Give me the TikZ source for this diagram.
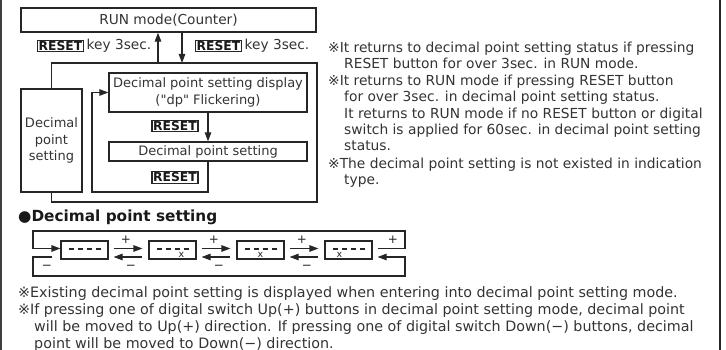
\documentclass[tikz,border=0pt]{standalone}
\usepackage{fontspec}
\setmainfont{DejaVu Sans}
\newfontfamily\rawq{DejaVu Sans}
\usetikzlibrary{arrows.meta,calc}
\begin{document}
\begin{tikzpicture}[x=1pt,y=-1pt,
  flowbox/.style={draw=black!85,line width=1.3pt,inner sep=0pt,rectangle,align=center,
    font=\fontsize{13}{16.5}\selectfont,text=black!80},
  keybox/.style={draw=black!85,line width=1.3pt,inner sep=1.1pt,
    font=\fontsize{12.3}{12.3}\selectfont\bfseries,text=black!90},
  conn/.style={draw=black!85,line width=1.2pt},
  arr/.style={conn,-{Triangle[length=9pt,width=6.5pt]}},
  body/.style={anchor=base west,inner sep=0pt,font=\fontsize{13.8}{16}\selectfont,text=black!80},
  bodyb/.style={anchor=base west,inner sep=0pt,font=\fontsize{14.3}{16}\selectfont,text=black!80},
  lbl/.style={inner sep=0pt,font=\fontsize{13.7}{16}\selectfont,text=black!80},
  pm/.style={inner sep=0pt,font=\fontsize{12}{12}\selectfont,text=black!85},
  disp/.style={draw=black!85,line width=1.2pt,minimum width=47pt,minimum height=18pt,inner sep=0pt},
  seg/.style={line width=2pt,draw=black!85},
  dot/.style={inner sep=0pt,font=\fontsize{9.5}{9.5}\selectfont,text=black!85},
  border/.style={draw=black!75}
]
\useasboundingbox (0,0) rectangle (726,350);
% page borders
\draw[border,line width=1.2pt] (1,0) -- (1,350);
\draw[border,line width=2.4pt,draw=black!85] (720,0) -- (720,350);

% ---------- flow diagram ----------
\node[flowbox,minimum width=295pt,minimum height=24pt,font=\fontsize{13.7}{16.5}\selectfont] (run) at (168.5,20) {RUN mode(Counter)};
\node[flowbox,minimum width=198pt,minimum height=39pt] (dsp) at (208,92.5) {Decimal point setting display\\({\rawq"}dp{\rawq"} Flickering)};
\node[flowbox,minimum width=198pt,minimum height=19pt] (dps) at (208,151.5) {Decimal point setting};
\node[flowbox,minimum width=61pt,minimum height=103pt] (lb) at (51.5,140.5) {Decimal\\point\\setting};

\node[keybox] (k3) at (60.5,46) {RESET};
\node[lbl,anchor=west] (t3) at ([xshift=2.5pt]k3.east) {key 3sec.};
\node[keybox] (k4) at (218.5,46) {RESET};
\node[lbl,anchor=west] (t4) at ([xshift=2.5pt]k4.east) {key 3sec.};
\node[keybox] (k1) at (175,126) {RESET};
\node[keybox] (k2) at (175,177.5) {RESET};

\coordinate (upx) at (158,63);
\coordinate (dnx) at (182,63);
\draw[arr] (upx) -- (upx |- run.south);
\draw[arr] (dnx |- run.south) -- (dnx);
\draw[conn] (lb.north) |- (317,63) -- (317,202) -| (lb.south);
\draw[arr] (dsp.south) -- (dps.north);
\draw[arr] (dps.south) |- (92,192) |- (dsp.west);

% ---------- right notes ----------
\node[body] at (328,53) {※It returns to decimal point setting status if pressing};
\node[body] at (344,68.5) {RESET button for over 3sec. in RUN mode.};
\node[body] at (328,86) {※It returns to RUN mode if pressing RESET button};
\node[body] at (344,102) {for over 3sec. in decimal point setting status.};
\node[body] at (344,118.5) {It returns to RUN mode if no RESET button or digital};
\node[body] at (344,135) {switch is applied for 60sec. in decimal point setting};
\node[body] at (344,151) {status.};
\node[body] at (328,168) {※The decimal point setting is not existed in indication};
\node[body] at (344,184.5) {type.};

% ---------- decimal point setting ----------
\node[anchor=base west,inner sep=0pt,font=\fontsize{15.3}{18}\selectfont\bfseries,text=black!90] (hd) at (18,222) {{\mdseries ●}Decimal point setting};

\node[disp] (d1) at (84.5,250) {};
\node[disp] (d2) at (172.5,250) {};
\node[disp] (d3) at (260.5,250) {};
\node[disp] (d4) at (348.5,250) {};
\foreach \d in {d1,d2,d3,d4}{
  \foreach \o in {-13.5,-4.5,4.5,13.5}{
    \draw[seg] ($(\d.center)+(\o-2.5,-1)$) -- ($(\d.center)+(\o+2.5,-1)$);
  }
}
\node[dot] at ($(d2.center)+(9,5)$) {x};
\node[dot] at ($(d3.center)+(0,5)$) {x};
\node[dot] at ($(d4.center)+(-9,5)$) {x};

\foreach \a/\b in {d1/d2,d2/d3,d3/d4}{
  \draw[arr] ($(\a.east)+(5,-1.5)$) -- ($(\b.west)+(-6,-1.5)$) node[pm,midway,yshift=8.5pt,xshift=-2pt] {+};
  \draw[arr] ($(\b.west)+(-6,7)$) -- ($(\a.east)+(5,7)$) node[pm,midway,yshift=-10pt,xshift=3pt] {−};
}
\draw[arr] ($(d4.east)+(5,-1.5)$) -| (405,231) -| (33,248.5) -- ($(d1.west)+(0,-1.5)$);
\draw[arr] ($(d1.west)+(-8,7)$) -| (33,276) -| (405,257) -- ($(d4.east)+(5,7)$);
\node[pm] at (393,240) {+};
\node[pm] at (47,267) {−};

% ---------- bottom notes ----------
\node[bodyb] at (18,297) {※Existing decimal point setting is displayed when entering into decimal point setting mode.};
\node[bodyb] at (18,314) {※If pressing one of digital switch Up(+) buttons in decimal point setting mode, decimal point};
\node[bodyb] at (34,331) {will be moved to Up(+) direction. If pressing one of digital switch Down(−) buttons, decimal};
\node[bodyb] at (34,348) {point will be moved to Down(−) direction.};
\end{tikzpicture}
\end{document}
